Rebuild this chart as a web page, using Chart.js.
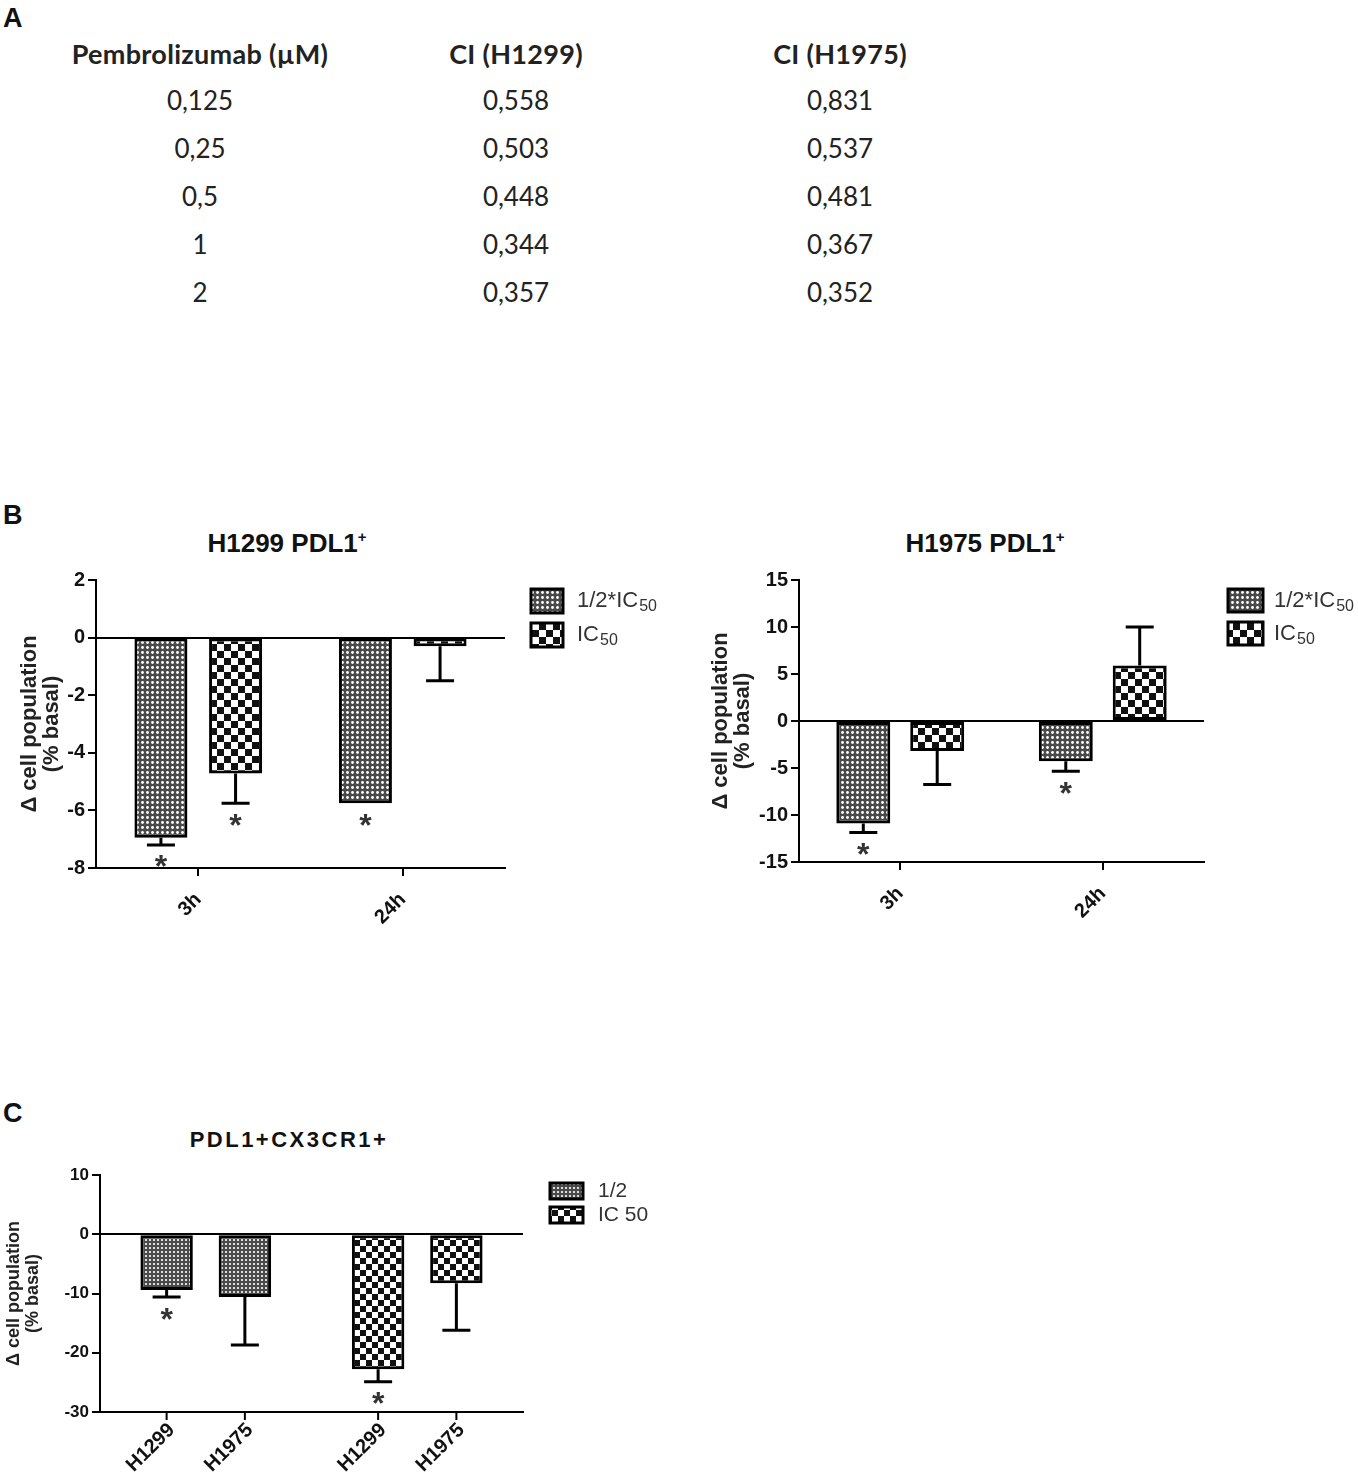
<!DOCTYPE html>
<html>
<head>
<meta charset="utf-8">
<script src="https://cdn.jsdelivr.net/npm/chart.js@4.4.1/dist/chart.umd.min.js"></script>
<style>
    body { margin: 0; width: 1358px; height: 1476px; position: relative; background: #fff; overflow: hidden;
           font-family: "Liberation Sans", Arial, sans-serif; color: #111; }
    canvas, .abs { position: absolute; }
    .letter { font-weight: bold; font-size: 27px; line-height: 1; }
    .cell { font-family: Lato, "Noto Sans", sans-serif; font-size: 26px; color: #222; white-space: nowrap;
            transform: translate(-50%, -50%); line-height: 1; }
    .cell.head { font-weight: bold; font-size: 27px; letter-spacing: 0.3px; }
    .title { font-weight: bold; font-size: 26px; white-space: nowrap; transform: translate(-50%, -50%); line-height: 1; }
    .title sup { font-size: 15px; vertical-align: 10px; line-height: 0; }
</style>
</head>
<body>

<div class="abs letter" style="left:3px;top:5px">A</div>
<div class="abs letter" style="left:3px;top:502px">B</div>
<div class="abs letter" style="left:3px;top:1100px">C</div>

<div class="abs title" style="left:287px;top:543px">H1299 PDL1<sup>+</sup></div>
<div class="abs title" style="left:985px;top:543px">H1975 PDL1<sup>+</sup></div>
<div class="abs title" style="left:289px;top:1140px;font-size:22px;letter-spacing:2.5px">PDL1+CX3CR1+</div>

<div id="table"></div>

<canvas id="h1299" width="680" height="400" style="left:0;top:560px"></canvas>
<canvas id="h1975" width="678" height="400" style="left:680px;top:560px"></canvas>
<canvas id="cx3cr1" width="700" height="326" style="left:0;top:1150px"></canvas>

<script>
// ---- Panel A: combination index table ----
const tableHeaders = ['Pembrolizumab (µM)', 'CI (H1299)', 'CI (H1975)'];
const doses = ['0,125', '0,25', '0,5', '1', '2'];
const ciH1299 = ['0,558', '0,503', '0,448', '0,344', '0,357'];
const ciH1975 = ['0,831', '0,537', '0,481', '0,367', '0,352'];

// ---- Panel B: H1299 PDL1+ ----
const timeLabels = ['3h', '24h'];
const h1299Half = [-6.95, -5.75];
const h1299HalfErr = [0.25, 0];
const h1299HalfStar = [true, true];
const h1299Ic50 = [-4.72, -0.3];
const h1299Ic50Err = [1.03, 1.2];
const h1299Ic50Star = [true, false];

// ---- Panel B: H1975 PDL1+ ----
const h1975Half = [-10.9, -4.27];
const h1975HalfErr = [0.95, 1.07];
const h1975HalfStar = [true, true];
const h1975Ic50 = [-3.2, 5.9];
const h1975Ic50Err = [3.55, 4.1];
const h1975Ic50Star = [false, false];

// ---- Panel C: PDL1+CX3CR1+ ----
const doseGroups = ['1/2', 'IC 50'];
const cH1299 = [-9.4, -22.8];
const cH1299Err = [1.2, 2.1];
const cH1299Star = [true, true];
const cH1975 = [-10.6, -8.25];
const cH1975Err = [8.1, 7.95];
const cH1975Star = [false, false];

// build the table as text
const table = document.getElementById('table');
const colX = [200, 516, 840];
function addCell(text, x, y, head) {
    const d = document.createElement('div');
    d.className = 'abs cell' + (head ? ' head' : '');
    d.style.left = x + 'px';
    d.style.top = y + 'px';
    d.textContent = text;
    table.appendChild(d);
}
tableHeaders.forEach((h, i) => addCell(h, colX[i], 53, true));
doses.forEach((d, r) => {
    const y = 100 + r * 48;
    addCell(d, colX[0], y);
    addCell(ciH1299[r], colX[1], y);
    addCell(ciH1975[r], colX[2], y);
});

// fill patterns
function makePattern(kind) {
    const c = document.createElement('canvas');
    const g = c.getContext('2d');
    if (kind === 'dots') {
        c.width = 5; c.height = 5;
        g.fillStyle = '#4a4a4a'; g.fillRect(0, 0, 5, 5);
        g.fillStyle = '#fff';
        g.beginPath(); g.arc(2.5, 2.5, 1.4, 0, Math.PI * 2); g.fill();
    } else if (kind === 'fineDots') {
        c.width = 4; c.height = 4;
        g.fillStyle = '#4a4a4a'; g.fillRect(0, 0, 4, 4);
        g.fillStyle = '#fff';
        g.beginPath(); g.arc(2, 2, 1.1, 0, Math.PI * 2); g.fill();
    } else {
        const s = kind === 'checker' ? 7 : 6;
        c.width = s * 2; c.height = s * 2;
        g.fillStyle = '#fff'; g.fillRect(0, 0, s * 2, s * 2);
        g.fillStyle = '#111';
        g.fillRect(0, 0, s, s); g.fillRect(s, s, s, s);
    }
    return g.createPattern(c, 'repeat');
}
const dotsFill = makePattern('dots');
const checkerFill = makePattern('checker');
const fineDotsFill = makePattern('fineDots');
const smallCheckerFill = makePattern('smallChecker');

// error bars and significance stars, drawn from dataset values
const errorBars = {
    id: 'errorBars',
    afterDatasetsDraw(chart) {
        const ctx = chart.ctx;
        const y = chart.scales.y;
        chart.data.datasets.forEach((ds, di) => {
            chart.getDatasetMeta(di).data.forEach((bar, i) => {
                const v = ds.data[i];
                const e = ds.errors[i];
                const sign = v < 0 ? -1 : 1;
                const y0 = y.getPixelForValue(v);
                const y1 = y.getPixelForValue(v + sign * e);
                ctx.save();
                ctx.strokeStyle = '#000';
                ctx.lineWidth = 3;
                if (e > 0) {
                    ctx.beginPath();
                    ctx.moveTo(bar.x, y0); ctx.lineTo(bar.x, y1);
                    ctx.moveTo(bar.x - 14, y1); ctx.lineTo(bar.x + 14, y1);
                    ctx.stroke();
                }
                if (ds.stars[i]) {
                    // star glyph centre sits about half an em above the baseline
                    ctx.fillStyle = '#333';
                    ctx.font = 'bold 32px "Liberation Sans", Arial';
                    ctx.textAlign = 'center';
                    ctx.textBaseline = 'alphabetic';
                    ctx.fillText('*', bar.x, y1 + 16 + 16.5);
                }
                ctx.restore();
            });
        });
    }
};

// legend with pattern swatches and subscripts
function patternLegend(items, g) {
    return {
        id: 'patternLegend',
        afterDraw(chart) {
            const ctx = chart.ctx;
            const area = chart.chartArea;
            items.forEach((item, i) => {
                const x = area.right + g.dx;
                const y = area.top + g.dy + i * g.step;
                ctx.save();
                ctx.fillStyle = item.fill;
                ctx.fillRect(x, y, g.w, g.h);
                ctx.lineWidth = 3;
                ctx.strokeStyle = '#000';
                ctx.strokeRect(x, y, g.w, g.h);
                ctx.fillStyle = '#333';
                ctx.textBaseline = 'middle';
                ctx.font = g.font;
                const tx = x + g.w + g.gap;
                const ty = y + g.h / 2;
                ctx.fillText(item.text, tx, ty);
                if (item.sub) {
                    const w = ctx.measureText(item.text).width;
                    ctx.font = g.subFont;
                    ctx.fillText(item.sub, tx + w + 1, ty + 6);
                }
                ctx.restore();
            });
        }
    };
}

// per-bar tick marks and rotated labels (panel C)
const barLabels = {
    id: 'barLabels',
    afterDraw(chart) {
        const ctx = chart.ctx;
        const base = chart.chartArea.bottom;
        chart.data.datasets.forEach((ds, di) => {
            chart.getDatasetMeta(di).data.forEach(bar => {
                ctx.save();
                ctx.strokeStyle = '#000';
                ctx.lineWidth = 2;
                ctx.beginPath();
                ctx.moveTo(bar.x, base); ctx.lineTo(bar.x, base + 8);
                ctx.stroke();
                ctx.translate(bar.x + 5, base + 15);
                ctx.rotate(-Math.PI / 4);
                ctx.textAlign = 'right';
                ctx.textBaseline = 'middle';
                ctx.fillStyle = '#111';
                ctx.font = 'bold 20px "Liberation Sans", Arial';
                ctx.fillText(ds.label, 0, 0);
                ctx.restore();
            });
        });
    }
};

function barDataset(label, data, errors, stars, fill, catPct, barPct) {
    return {
        label, data, errors, stars,
        backgroundColor: fill,
        borderColor: '#000',
        borderWidth: 3,
        borderSkipped: false,
        categoryPercentage: catPct,
        barPercentage: barPct
    };
}

function makeChart(id, labels, datasets, s) {
    return new Chart(document.getElementById(id), {
        type: 'bar',
        data: { labels, datasets },
        plugins: s.plugins,
        options: {
            responsive: false,
            animation: false,
            layout: { padding: s.padding },
            plugins: { legend: { display: false }, tooltip: { enabled: false } },
            scales: {
                x: {
                    grid: { offset: false, drawOnChartArea: false, color: '#000', lineWidth: 2,
                            tickLength: 8, drawTicks: s.xTicks },
                    border: { color: '#000', width: 2 },
                    ticks: { display: s.xTicks, color: '#111', minRotation: 45, maxRotation: 45, padding: 12,
                             font: { family: '"Liberation Sans", Arial', size: 20, weight: 'bold' } },
                    afterFit: sc => { sc.height = s.xHeight; }
                },
                y: {
                    min: s.min, max: s.max,
                    ticks: { stepSize: s.step, color: '#111', padding: 3,
                             font: { family: '"Liberation Sans", Arial', size: s.tickSize, weight: 'bold' } },
                    grid: { color: c => (c.tick && c.tick.value === 0) ? '#000' : 'rgba(0,0,0,0)',
                            lineWidth: 2, tickColor: '#000', tickLength: 8, tickWidth: 2 },
                    border: { color: '#000', width: 2 },
                    title: { display: true, text: ['\u0394 cell population', '(% basal)'], color: '#222',
                             padding: { top: s.titlePad, bottom: 0 },
                             font: { family: '"Liberation Sans", Arial', size: s.titleSize, weight: 'bold',
                                     lineHeight: s.titleLine } },
                    afterFit: sc => { sc.width = s.yWidth; }
                }
            }
        }
    });
}

makeChart('h1299', timeLabels, [
    barDataset('1/2*IC50', h1299Half, h1299HalfErr, h1299HalfStar, dotsFill, 0.73, 0.71),
    barDataset('IC50', h1299Ic50, h1299Ic50Err, h1299Ic50Star, checkerFill, 0.73, 0.71)
], {
    padding: { top: 20, left: 12, right: 175, bottom: 12 }, yWidth: 84, xHeight: 80, xTicks: true,
    min: -8, max: 2, step: 2, tickSize: 20, titleSize: 22, titleLine: '22px', titlePad: 7,
    plugins: [errorBars, patternLegend([
        { fill: dotsFill, text: '1/2*IC', sub: '50' },
        { fill: checkerFill, text: 'IC', sub: '50' }
    ], { dx: 26, dy: 9, step: 34, w: 32, h: 24, gap: 14,
         font: '22px "Liberation Sans", Arial', subFont: '16px "Liberation Sans", Arial' })]
});

makeChart('h1975', timeLabels, [
    barDataset('1/2*IC50', h1975Half, h1975HalfErr, h1975HalfStar, dotsFill, 0.73, 0.73),
    barDataset('IC50', h1975Ic50, h1975Ic50Err, h1975Ic50Star, checkerFill, 0.73, 0.73)
], {
    padding: { top: 20, left: 12, right: 154, bottom: 12 }, yWidth: 107, xHeight: 86, xTicks: true,
    min: -15, max: 15, step: 5, tickSize: 20, titleSize: 22, titleLine: '22px', titlePad: 18,
    plugins: [errorBars, patternLegend([
        { fill: dotsFill, text: '1/2*IC', sub: '50' },
        { fill: checkerFill, text: 'IC', sub: '50' }
    ], { dx: 24, dy: 9, step: 33, w: 35, h: 23, gap: 11,
         font: '22px "Liberation Sans", Arial', subFont: '16px "Liberation Sans", Arial' })]
});

makeChart('cx3cr1', doseGroups, [
    barDataset('H1299', cH1299, cH1299Err, cH1299Star, [fineDotsFill, smallCheckerFill], 0.74, 0.67),
    barDataset('H1975', cH1975, cH1975Err, cH1975Star, [fineDotsFill, smallCheckerFill], 0.74, 0.67)
], {
    padding: { top: 25, left: 0, right: 177, bottom: 4 }, yWidth: 100, xHeight: 60, xTicks: false,
    min: -30, max: 10, step: 10, tickSize: 17, titleSize: 18, titleLine: '19px', titlePad: 4.5,
    plugins: [errorBars, barLabels, patternLegend([
        { fill: fineDotsFill, text: '1/2' },
        { fill: smallCheckerFill, text: 'IC 50' }
    ], { dx: 27, dy: 8, step: 24, w: 33, h: 16, gap: 15,
         font: '21px "Liberation Sans", Arial' })]
});
</script>
</body>
</html>
